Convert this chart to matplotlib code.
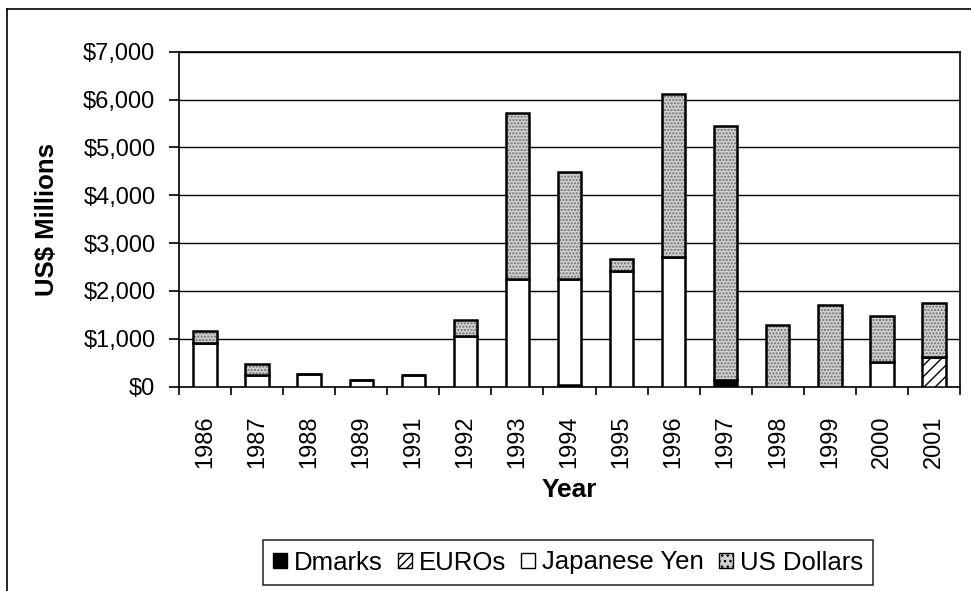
import numpy as np
import matplotlib
matplotlib.use('Agg')
import matplotlib.pyplot as plt
from matplotlib.patches import Patch
from matplotlib.lines import Line2D
from matplotlib.ticker import FuncFormatter, MultipleLocator

plt.rcParams['font.family'] = ['Liberation Sans', 'DejaVu Sans']
plt.rcParams['hatch.linewidth'] = 1.0

years = ['1986', '1987', '1988', '1989', '1991', '1992', '1993', '1994',
         '1995', '1996', '1997', '1998', '1999', '2000', '2001']
dmarks = [0, 0, 0, 0, 0, 0, 0, 30, 0, 0, 130, 0, 0, 0, 0]
euros = [0, 0, 0, 0, 0, 0, 0, 0, 0, 0, 0, 0, 0, 0, 630]
yen = [920, 240, 270, 140, 240, 1060, 2250, 2220, 2420, 2710, 0, 0, 0, 520, 0]
usd = [250, 230, 0, 0, 0, 330, 3460, 2240, 240, 3400, 5310, 1290, 1700, 960, 1110]

fig = plt.figure(figsize=(9.71, 5.91), dpi=100)
ax = fig.add_axes([179 / 971, 1 - 386.7 / 591, (960 - 179) / 971, (386.7 - 51.7) / 591])

x = np.arange(len(years))
w = 0.45
edge = dict(edgecolor='black', linewidth=1.8)

b1 = np.array(dmarks, dtype=float)
b2 = b1 + euros
b3 = b2 + yen

ax.bar(x, dmarks, w, color='black', **edge, zorder=3)
ax.bar(x, euros, w, bottom=b1, color='white', hatch='///', **edge, zorder=3)
ax.bar(x, yen, w, bottom=b2, color='white', **edge, zorder=3)
# stippled US dollar segments: hatch layer then outline
ax.bar(x, usd, w, bottom=b3, color='#cfcfcf', hatch='.....', edgecolor='#6e6e6e',
       linewidth=0, zorder=3)
ax.bar(x, usd, w, bottom=b3, fill=False, **edge, zorder=4)

ax.set_xlim(-0.5, len(years) - 0.5)
ax.set_ylim(0, 7000)
ax.yaxis.set_major_locator(MultipleLocator(1000))
ax.yaxis.set_major_formatter(FuncFormatter(lambda v, p: f'${v:,.0f}'))
ax.grid(axis='y', color='black', linewidth=1.0, zorder=0)
ax.set_axisbelow(True)

ax.set_xticks(x)
ax.set_xticklabels(years, rotation=90)
ax.set_xticks(np.arange(-0.5, len(years)), minor=True)
ax.tick_params(axis='x', which='major', length=0, pad=21, labelsize=17)
ax.tick_params(axis='x', which='minor', length=6, width=1.2, direction='out')
ax.tick_params(axis='y', length=7, width=1.2, pad=10, labelsize=17)

for s in ax.spines.values():
    s.set_linewidth(1.2)

ax.set_ylabel('US$ Millions', fontsize=18.5, fontweight='bold')
ax.yaxis.set_label_coords(-120 / 781, 0.5)
ax.set_xlabel('Year', fontsize=19, fontweight='bold')
ax.xaxis.set_label_coords(0.5, -(478 - 386.7) / 335)

handles = [
    Patch(facecolor='black', edgecolor='black', label='Dmarks'),
    Patch(facecolor='white', edgecolor='black', hatch='////', label='EUROs'),
    Patch(facecolor='white', edgecolor='black', label='Japanese Yen'),
    Patch(facecolor='#cfcfcf', edgecolor='black', hatch='...', label='US Dollars'),
]
leg = fig.legend(handles=handles, loc='center', ncol=4,
                 bbox_to_anchor=(568 / 971, 1 - 562.5 / 591),
                 fontsize=18.5, frameon=True, fancybox=False,
                 handlelength=0.55, handleheight=0.55, handletextpad=0.25,
                 columnspacing=0.6, borderpad=0.4)
leg.get_frame().set_edgecolor('black')
leg.get_frame().set_linewidth(1.2)

# outer chart border (top and left edges visible in the scan)
fig.add_artist(Line2D([7 / 971, 1], [1 - 9 / 591] * 2, transform=fig.transFigure,
                      color='black', linewidth=1.2))
fig.add_artist(Line2D([7 / 971] * 2, [0, 1 - 9 / 591], transform=fig.transFigure,
                      color='black', linewidth=1.2))

fig.savefig('out.png', dpi=100)
